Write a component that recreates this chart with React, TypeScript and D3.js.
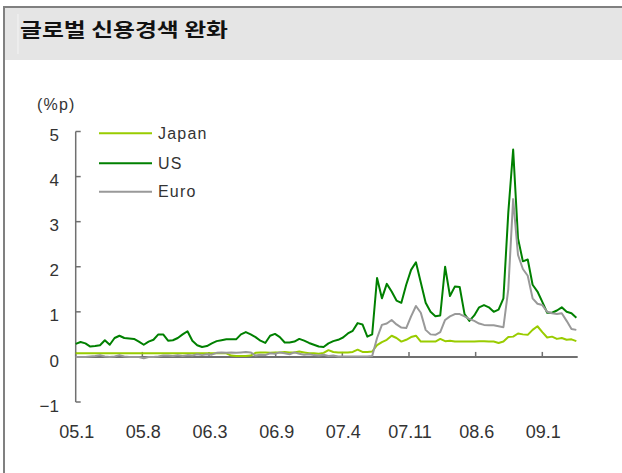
import React from "react";
import * as d3 from "d3";

// Half-monthly observations from Jan 2005 (index 0) to mid-Apr 2009
const STEP_MONTHS = 0.5;
const seriesNames = ["Japan", "US", "Euro"];
const seriesColors = ["#99cc00", "#008000", "#999999"];

const japan = [
  0.08, 0.08, 0.08, 0.08, 0.08, 0.08, 0.08, 0.08, 0.08, 0.08,
  0.08, 0.08, 0.08, 0.08, 0.08, 0.08, 0.08, 0.08, 0.08, 0.08,
  0.08, 0.08, 0.08, 0.08, 0.08, 0.08, 0.08, 0.08, 0.08, 0.08,
  0.08, 0.08, 0.03, 0.02, 0.02, 0.02, 0.03, 0.09, 0.1, 0.1,
  0.09, 0.1, 0.1, 0.11, 0.1, 0.1, 0.12, 0.1, 0.08, 0.08,
  0.07, 0.09, 0.15, 0.11, 0.1, 0.1, 0.1, 0.11, 0.16, 0.11,
  0.11, 0.12, 0.26, 0.33, 0.38, 0.47, 0.42, 0.34, 0.38, 0.44,
  0.47, 0.34, 0.34, 0.34, 0.34, 0.4, 0.35, 0.36, 0.34, 0.34,
  0.34, 0.34, 0.34, 0.35, 0.35, 0.34, 0.34, 0.31, 0.34, 0.44,
  0.45, 0.52, 0.5, 0.49, 0.6, 0.68, 0.55, 0.43, 0.45, 0.4,
  0.42, 0.38, 0.39, 0.35,
];

const us = [
  0.29, 0.33, 0.3, 0.23, 0.24, 0.26, 0.37, 0.27, 0.42, 0.47,
  0.42, 0.41, 0.4, 0.34, 0.27, 0.34, 0.38, 0.5, 0.5, 0.36,
  0.37, 0.42, 0.5, 0.57, 0.36, 0.26, 0.22, 0.24, 0.3, 0.35,
  0.37, 0.39, 0.39, 0.39, 0.5, 0.55, 0.5, 0.44, 0.36, 0.31,
  0.47, 0.51, 0.44, 0.32, 0.32, 0.34, 0.4, 0.36, 0.31, 0.27,
  0.23, 0.22, 0.3, 0.35, 0.38, 0.43, 0.52, 0.58, 0.75, 0.72,
  0.45, 0.5, 1.75, 1.3, 1.62, 1.45, 1.25, 1.2, 1.6, 1.93,
  2.1, 1.65, 1.2, 1.0, 0.9, 0.92, 2.0, 1.35, 1.56, 1.55,
  0.95, 0.8, 0.92, 1.1, 1.15, 1.1, 1.0, 1.05, 1.3, 3.2,
  4.6, 2.63, 2.12, 2.16, 1.6, 1.45, 1.22, 0.98, 0.98, 1.03,
  1.1, 1.0, 0.97, 0.87,
];

const euro = [
  0.0, 0.0, 0.0, 0.01, 0.02, 0.04, 0.01, 0.0, 0.01, 0.04,
  0.01, 0.0, 0.0, 0.0, -0.03, 0.0, 0.0, 0.01, 0.03, 0.03,
  0.02, 0.04, 0.02, 0.04, 0.03, 0.06, 0.04, 0.06, 0.05, 0.09,
  0.1, 0.09, 0.1, 0.09, 0.1, 0.11, 0.1, 0.03, 0.05, 0.04,
  0.08, 0.07, 0.1, 0.08, 0.06, 0.1, 0.07, 0.05, 0.06, 0.04,
  0.03, 0.05, 0.02, 0.03, 0.01, 0.01, 0.01, 0.01, 0.01, 0.01,
  0.01, 0.02, 0.42, 0.71, 0.74, 0.82, 0.72, 0.65, 0.64, 0.9,
  1.13, 0.98, 0.6, 0.5, 0.49, 0.55, 0.82, 0.9, 0.95, 0.95,
  0.9, 0.84, 0.8, 0.74, 0.71, 0.7, 0.7, 0.68, 0.66, 1.5,
  3.5, 2.26, 1.95, 1.8, 1.3, 1.18, 1.15, 1.0, 0.97, 0.95,
  0.97, 0.8, 0.62, 0.6,
];

const xTickLabels = ["05.1", "05.8", "06.3", "06.9", "07.4", "07.11", "08.6", "09.1"];
const X_TICK_MONTHS = 48 / 7; // a tick every 30 weeks
const yTicks = [-1, 0, 1, 2, 3, 4, 5];
const title = "글로벌 신용경색 완화";
const unitLabel = "(%p)";

export default function App() {
  const W = 622;
  const H = 473;
  const x = d3.scaleLinear().domain([0, 51.64]).range([75.7, 577.7]);
  const y = d3.scaleLinear().domain([-1, 5]).range([402, 131.5]);
  const line = d3
    .line<number>()
    .x((_, i) => x(i * STEP_MONTHS))
    .y((d) => y(d));
  const data = [japan, us, euro];
  const axisColor = "#707070";
  const font = "'Liberation Sans', Arial, sans-serif";

  return (
    <svg
      width={W}
      height={H}
      style={{ position: "absolute", left: 0, top: 0, background: "#fff" }}
    >
      <rect x={0} y={0} width={W} height={H} fill="#fff" />
      {/* title bar */}
      <rect x={5} y={8} width={W - 5} height={52} fill="#e5e5e5" />
      <line x1={18} x2={18} y1={14} y2={54} stroke="#f4f4f4" strokeWidth={1} />
      <rect x={4} y={7} width={W + 20} height={H + 20} fill="none" stroke="#808080" strokeWidth={2} />
      <text
        x={20}
        y={37}
        fontFamily="'Noto Sans CJK KR', sans-serif"
        fontWeight="bold"
        fontSize={19}
        textLength={208}
        lengthAdjust="spacingAndGlyphs"
        fill="#111"
      >
        {title}
      </text>

      <text x={37} y={110} fontFamily={font} fontSize={16} letterSpacing={1.2} fill="#333">
        {unitLabel}
      </text>

      {/* y axis */}
      <line x1={x(0)} x2={x(0)} y1={y(5)} y2={y(-1)} stroke={axisColor} strokeWidth={1.5} />
      {yTicks.map((t) => (
        <g key={t}>
          <line x1={x(0)} x2={x(0) + 5} y1={y(t)} y2={y(t)} stroke={axisColor} strokeWidth={1.5} />
          <text
            x={59}
            y={y(t) + 3.5}
            dy="0.36em"
            textAnchor="end"
            fontFamily={font}
            fontSize={17}
            fill="#333"
          >
            {t < 0 ? "\u2212" + Math.abs(t) : String(t)}
          </text>
        </g>
      ))}

      {/* x axis at zero */}
      <line x1={x(0)} x2={x.range()[1]} y1={y(0)} y2={y(0)} stroke={axisColor} strokeWidth={2} />
      {xTickLabels.map((lab, k) => (
        <g key={lab}>
          <line
            x1={x(k * X_TICK_MONTHS)}
            x2={x(k * X_TICK_MONTHS)}
            y1={y(0)}
            y2={y(0) - 5}
            stroke={axisColor}
            strokeWidth={1.5}
          />
          <text
            x={x(k * X_TICK_MONTHS) + 1}
            y={431.5}
            dy="0.36em"
            textAnchor="middle"
            fontFamily={font}
            fontSize={18}
            fill="#333"
          >
            {lab}
          </text>
        </g>
      ))}

      {/* series */}
      {data.map((s, i) => (
        <path
          key={seriesNames[i]}
          d={line(s) || ""}
          fill="none"
          stroke={seriesColors[i]}
          strokeWidth={2}
          strokeLinejoin="round"
        />
      ))}

      {/* legend */}
      {seriesNames.map((n, i) => {
        const ly = [133.3, 163.3, 191.7][i];
        return (
          <g key={n}>
            <line x1={99} x2={152} y1={ly} y2={ly} stroke={seriesColors[i]} strokeWidth={2} />
            <text
              x={158}
              y={ly}
              dy="0.36em"
              fontFamily={font}
              fontSize={16}
              letterSpacing={1.2}
              fill="#333"
            >
              {n}
            </text>
          </g>
        );
      })}
    </svg>
  );
}
